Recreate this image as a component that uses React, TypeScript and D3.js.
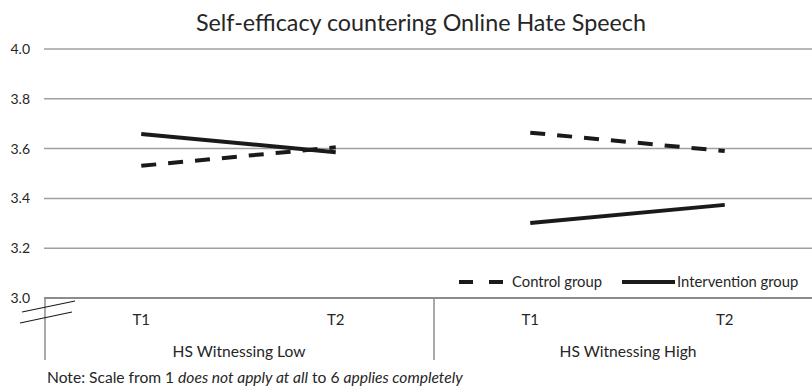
import React from "react";
import * as d3 from "d3";

const groups = ["HS Witnessing Low", "HS Witnessing High"];
const times = ["T1", "T2"];
const controlLow = [3.531, 3.605];
const controlHigh = [3.664, 3.59];
const interventionLow = [3.659, 3.585];
const interventionHigh = [3.301, 3.374];
const yTicks = [3.0, 3.2, 3.4, 3.6, 3.8, 4.0];
const title = "Self-efficacy countering Online Hate Speech";

const W = 812;
const H = 388;
const FONT = "Lato, 'Open Sans', sans-serif";

export default function App() {
  const left = 44;
  const right = 822;
  const top = 49;
  const bottom = 298;
  const cats = groups.flatMap((g) => times.map((t) => g + "|" + t));
  const x = d3.scaleBand<string>().domain(cats).range([left, right]);
  const xg = d3.scaleBand<string>().domain(groups).range([left, right]);
  const y = d3.scaleLinear().domain([3, 4]).range([bottom, top]);
  const line = d3
    .line<[string, number]>()
    .x((d) => (x(d[0]) as number) + x.bandwidth() / 2)
    .y((d) => y(d[1]));

  const series = [
    { g: groups[0], v: controlLow, dash: true },
    { g: groups[1], v: controlHigh, dash: true },
    { g: groups[0], v: interventionLow, dash: false },
    { g: groups[1], v: interventionHigh, dash: false },
  ];

  return (
    <svg width={W} height={H} style={{ position: "absolute", left: 0, top: 0, background: "#fff" }} fontFamily={FONT}>
      <rect width={W} height={H} fill="#fff" />
      <text x={421} y={31} textAnchor="middle" fontSize={23.3} fill="#262626">
        {title}
      </text>
      {yTicks.map((t) => (
        <g key={t}>
          {t > 3 && (
            <line x1={left} x2={right} y1={y(t)} y2={y(t)} stroke="#a0a0a0" strokeWidth={1.5} />
          )}
          <text x={30} y={y(t) + 5} textAnchor="end" fontSize={14} fill="#262626">
            {t.toFixed(1)}
          </text>
        </g>
      ))}
      {/* x axis */}
      <line x1={left} x2={right} y1={bottom} y2={bottom} stroke="#8c8c8c" strokeWidth={2} />
      {groups.map((g) => (
        <line
          key={g}
          x1={(xg(g) as number) + 1}
          x2={(xg(g) as number) + 1}
          y1={bottom}
          y2={360}
          stroke="#8c8c8c"
          strokeWidth={1.5}
        />
      ))}
      {cats.map((c) => (
        <text key={c} x={(x(c) as number) + x.bandwidth() / 2} y={325} textAnchor="middle" fontSize={15} fill="#262626">
          {c.split("|")[1]}
        </text>
      ))}
      {groups.map((g) => (
        <text key={g} x={(xg(g) as number) + 195} y={357} textAnchor="middle" fontSize={15.6} fill="#262626">
          {g}
        </text>
      ))}
      {/* axis break */}
      <line x1={22} y1={312} x2={75} y2={301} stroke="#1a1a1a" strokeWidth={1.2} />
      <line x1={20} y1={323} x2={72} y2={312} stroke="#1a1a1a" strokeWidth={1.2} />
      {/* series */}
      {series.map((s, i) => (
        <path
          key={i}
          d={line(times.map((t, j) => [s.g + "|" + t, s.v[j]] as [string, number])) as string}
          fill="none"
          stroke="#1a1a1a"
          strokeWidth={4}
          strokeDasharray={s.dash ? "15 12" : undefined}
        />
      ))}
      {/* legend */}
      <line x1={459} x2={503} y1={282} y2={282} stroke="#1a1a1a" strokeWidth={4} strokeDasharray="14 16" />
      <text x={512} y={287} fontSize={14.8} fill="#262626">Control group</text>
      <line x1={622} x2={675} y1={282} y2={282} stroke="#1a1a1a" strokeWidth={4} />
      <text x={677} y={287} fontSize={14.8} fill="#262626">Intervention group</text>
      {/* note */}
      <text x={47} y={383} fontSize={15.6} fill="#262626">
        Note: Scale from 1 <tspan fontStyle="italic">does not apply at all</tspan> to 6{" "}
        <tspan fontStyle="italic">applies completely</tspan>
      </text>
    </svg>
  );
}
